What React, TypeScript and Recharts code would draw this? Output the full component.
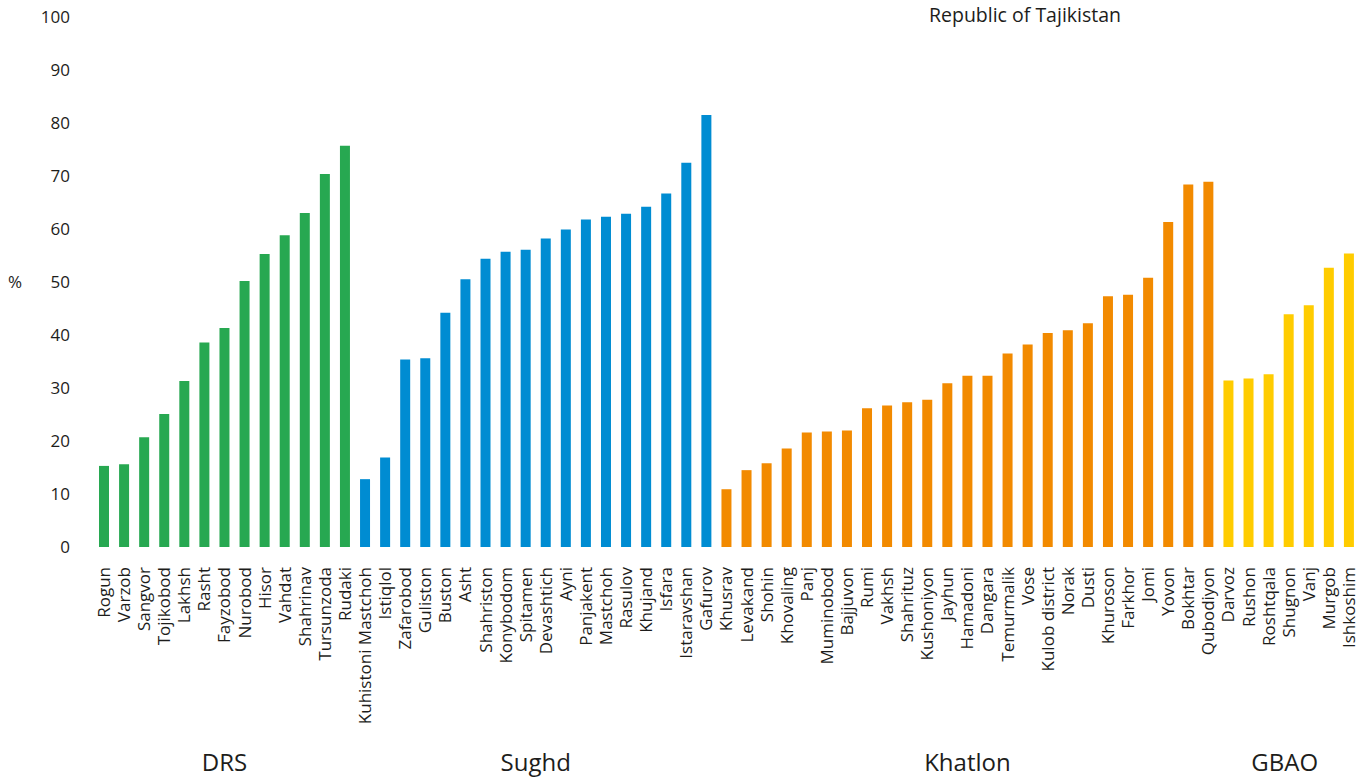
import { BarChart, Bar, XAxis, YAxis, Cell } from 'recharts';

const drsNames = ['Rogun', 'Varzob', 'Sangvor', 'Tojikobod', 'Lakhsh', 'Rasht', 'Fayzobod', 'Nurobod', 'Hisor', 'Vahdat', 'Shahrinav', 'Tursunzoda', 'Rudaki'];
const drsValues = [15.3, 15.6, 20.7, 25.1, 31.3, 38.6, 41.3, 50.2, 55.3, 58.8, 63.0, 70.4, 75.7];

const sughdNames = ['Kuhistoni Mastchoh', 'Istiqlol', 'Zafarobod', 'Guliston', 'Buston', 'Asht', 'Shahriston', 'Konybodom', 'Spitamen', 'Devashtich', 'Ayni', 'Panjakent', 'Mastchoh', 'Rasulov', 'Khujand', 'Isfara', 'Istaravshan', 'Gafurov'];
const sughdValues = [12.8, 16.9, 35.4, 35.6, 44.2, 50.5, 54.4, 55.7, 56.1, 58.2, 59.9, 61.8, 62.3, 62.9, 64.2, 66.7, 72.5, 81.5];

const khatlonNames = ['Khusrav', 'Levakand', 'Shohin', 'Khovaling', 'Panj', 'Muminobod', 'Bajjuvon', 'Rumi', 'Vakhsh', 'Shahrituz', 'Kushoniyon', 'Jayhun', 'Hamadoni', 'Dangara', 'Temurmalik', 'Vose', 'Kulob district', 'Norak', 'Dusti', 'Khuroson', 'Farkhor', 'Jomi', 'Yovon', 'Bokhtar', 'Qubodiyon'];
const khatlonValues = [10.9, 14.5, 15.8, 18.6, 21.6, 21.8, 22.0, 26.2, 26.7, 27.3, 27.8, 30.9, 32.3, 32.3, 36.5, 38.2, 40.4, 40.9, 42.2, 47.3, 47.6, 50.8, 61.3, 68.4, 68.9];

const gbaoNames = ['Darvoz', 'Rushon', 'Roshtqala', 'Shugnon', 'Vanj', 'Murgob', 'Ishkoshim'];
const gbaoValues = [31.4, 31.8, 32.6, 43.9, 45.6, 52.7, 55.4];

const yTicks = [0, 10, 20, 30, 40, 50, 60, 70, 80, 90, 100];

const groups = [
  { label: 'DRS', names: drsNames, values: drsValues, color: '#27a851' },
  { label: 'Sughd', names: sughdNames, values: sughdValues, color: '#008cd2' },
  { label: 'Khatlon', names: khatlonNames, values: khatlonValues, color: '#f28a00' },
  { label: 'GBAO', names: gbaoNames, values: gbaoValues, color: '#ffcc00' },
];

const data = groups.flatMap((g) =>
  g.names.map((name, i) => ({ name, value: g.values[i], color: g.color })),
);

// index of first bar in each group -> group info
const groupStarts: Record<number, { label: string; count: number }> = {};
let start = 0;
groups.forEach((g) => {
  groupStarts[start] = { label: g.label, count: g.names.length };
  start += g.names.length;
});

const WIDTH = 1365;
const HEIGHT = 778;
const MARGIN = { top: 17, right: 6, bottom: 0, left: 0 };
const Y_AXIS_W = 94;
const BAND = (WIDTH - MARGIN.left - MARGIN.right - Y_AXIS_W) / data.length;
const FONT = '"Open Sans", "Noto Sans", sans-serif';
const TEXT = '#1d1d1b';

function CategoryTick(props: any) {
  const { x, y, payload } = props;
  const idx = payload.index;
  const grp = groupStarts[idx];
  return (
    <g>
      <text
        transform={`translate(${x},${y + 12}) rotate(-90)`}
        textAnchor="end"
        dy="0.35em"
        fontSize={17}
        fontFamily={FONT}
        fill={TEXT}
      >
        {payload.value}
      </text>
      {grp && (
        <text
          x={x + ((grp.count - 1) / 2) * BAND - (grp.label === 'GBAO' ? 4 : 0)}
          y={771}
          textAnchor="middle"
          fontSize={24}
          fontFamily={FONT}
          fill={TEXT}
        >
          {grp.label}
        </text>
      )}
    </g>
  );
}

export default function App() {
  return (
    <div style={{ position: 'absolute', left: 0, top: 0, width: WIDTH, height: HEIGHT, background: '#fff' }}>
      <BarChart width={WIDTH} height={HEIGHT} data={data} margin={MARGIN} barSize={10}>
        <text x={1025} y={22} textAnchor="middle" fontSize={19.5} fontFamily={FONT} fill={TEXT}>
          Republic of Tajikistan
        </text>
        <XAxis
          dataKey="name"
          interval={0}
          tickLine={false}
          axisLine={false}
          height={HEIGHT - MARGIN.top - 530}
          tick={<CategoryTick />}
        />
        <YAxis
          width={Y_AXIS_W}
          domain={[0, 100]}
          ticks={yTicks}
          tickLine={false}
          axisLine={false}
          tickMargin={18}
          tick={{ fontSize: 17, fontFamily: FONT, fill: TEXT }}
          label={{ value: '%', position: 'insideLeft', offset: 8, fontSize: 17, fontFamily: FONT, fill: TEXT }}
        />
        <Bar dataKey="value" isAnimationActive={false}>
          {data.map((d, i) => (
            <Cell key={`c-${i}`} fill={d.color} />
          ))}
        </Bar>
      </BarChart>
    </div>
  );
}
